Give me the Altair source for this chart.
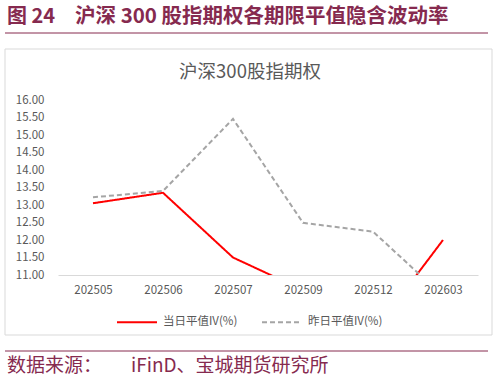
import altair as alt
import pandas as pd

months = ["202505", "202506", "202507", "202509", "202512", "202603"]
series_names = ["当日平值IV(%)", "昨日平值IV(%)"]
today_iv = [13.05, 13.35, 11.50, 10.57, 9.35, 12.00]
yesterday_iv = [13.22, 13.40, 15.46, 12.49, 12.24, 10.40]
y_ticks = [11.0, 11.5, 12.0, 12.5, 13.0, 13.5, 14.0, 14.5, 15.0, 15.5, 16.0]

fig_title_no = "图 24"
fig_title = "沪深 300 股指期权各期限平值隐含波动率"
chart_title = "沪深300股指期权"
source_a = "数据来源："
source_b = "iFinD、宝城期货研究所"

rows = []
for m, v in zip(months, today_iv):
    rows.append({"month": m, "series": series_names[0], "value": v})
for m, v in zip(months, yesterday_iv):
    rows.append({"month": m, "series": series_names[1], "value": v})
df = pd.DataFrame(rows)

MAROON = "#862A4F"
GRAY_TXT = "#595959"
FONT = "Noto Sans CJK SC"
one = alt.Data(values=[{}])

# Decorations (plot origin is at x=58, y=100 in the page)
border = alt.Chart(one).mark_rect(fill="white", stroke="#D9D9D9", strokeWidth=1).encode(
    x=alt.value(-53), x2=alt.value(434), y=alt.value(-51), y2=alt.value(235)
)
top_rule = alt.Chart(one).mark_rule(color=MAROON, strokeWidth=1).encode(
    x=alt.value(-53), x2=alt.value(430), y=alt.value(-67)
)
bottom_rule = alt.Chart(one).mark_rule(color=MAROON, strokeWidth=1).encode(
    x=alt.value(-53), x2=alt.value(430), y=alt.value(251)
)
t_no = alt.Chart(one).mark_text(
    text=fig_title_no, font=FONT, fontSize=20, fontWeight="bold", color=MAROON,
    align="left", baseline="middle"
).encode(x=alt.value(-51), y=alt.value(-83))
t_title = alt.Chart(one).mark_text(
    text=fig_title, font=FONT, fontSize=20.5, fontWeight="bold", color=MAROON,
    align="left", baseline="middle"
).encode(x=alt.value(17), y=alt.value(-83))
t_chart = alt.Chart(one).mark_text(
    text=chart_title, font=FONT, fontSize=18.5, color=GRAY_TXT,
    align="center", baseline="middle"
).encode(x=alt.value(192), y=alt.value(-28))
t_src_a = alt.Chart(one).mark_text(
    text=source_a, font=FONT, fontSize=19, color=MAROON,
    align="left", baseline="middle"
).encode(x=alt.value(-51), y=alt.value(266))
t_src_b = alt.Chart(one).mark_text(
    text=source_b, font=FONT, fontSize=19, color=MAROON,
    align="left", baseline="middle"
).encode(x=alt.value(73), y=alt.value(266))

lines = alt.Chart(df).mark_line(strokeWidth=2, clip=True).encode(
    x=alt.X("month:N", sort=months, title=None,
            axis=alt.Axis(labelAngle=0, ticks=False, domainColor="#D9D9D9",
                          labelPadding=9, labelFontSize=11.5, labelColor=GRAY_TXT,
                          labelFont=FONT, grid=False, zindex=2)),
    y=alt.Y("value:Q", title=None,
            scale=alt.Scale(domain=[11, 16], zero=False, nice=False),
            axis=alt.Axis(values=y_ticks, format=".2f", ticks=False, domain=False,
                          grid=False, labelPadding=14, labelFontSize=11.5,
                          labelColor=GRAY_TXT, labelFont=FONT, zindex=2)),
    color=alt.Color("series:N", sort=series_names,
                    scale=alt.Scale(domain=series_names, range=["#FF0000", "#A5A5A5"]),
                    legend=alt.Legend(title=None, orient="none", legendX=58, legendY=201,
                                      direction="horizontal", symbolType="stroke",
                                      symbolSize=1600, symbolStrokeWidth=2,
                                      labelFontSize=11.5, labelColor=GRAY_TXT,
                                      labelFont=FONT, columnPadding=20, labelOffset=5,
                                      zindex=2)),
    strokeDash=alt.StrokeDash("series:N", sort=series_names,
                              scale=alt.Scale(domain=series_names, range=[[1, 0], [5, 3]]),
                              legend=None),
)

chart = alt.layer(
    border, top_rule, bottom_rule, t_no, t_title, t_chart, t_src_a, t_src_b, lines
).properties(
    width=420, height=175,
    autosize=alt.AutoSizeParams(type="none"),
    padding={"left": 58, "top": 100, "right": 21, "bottom": 107},
).configure_view(stroke=None).configure(background="white")

chart.save("out.html", embed_options={"renderer": "svg", "actions": False})
